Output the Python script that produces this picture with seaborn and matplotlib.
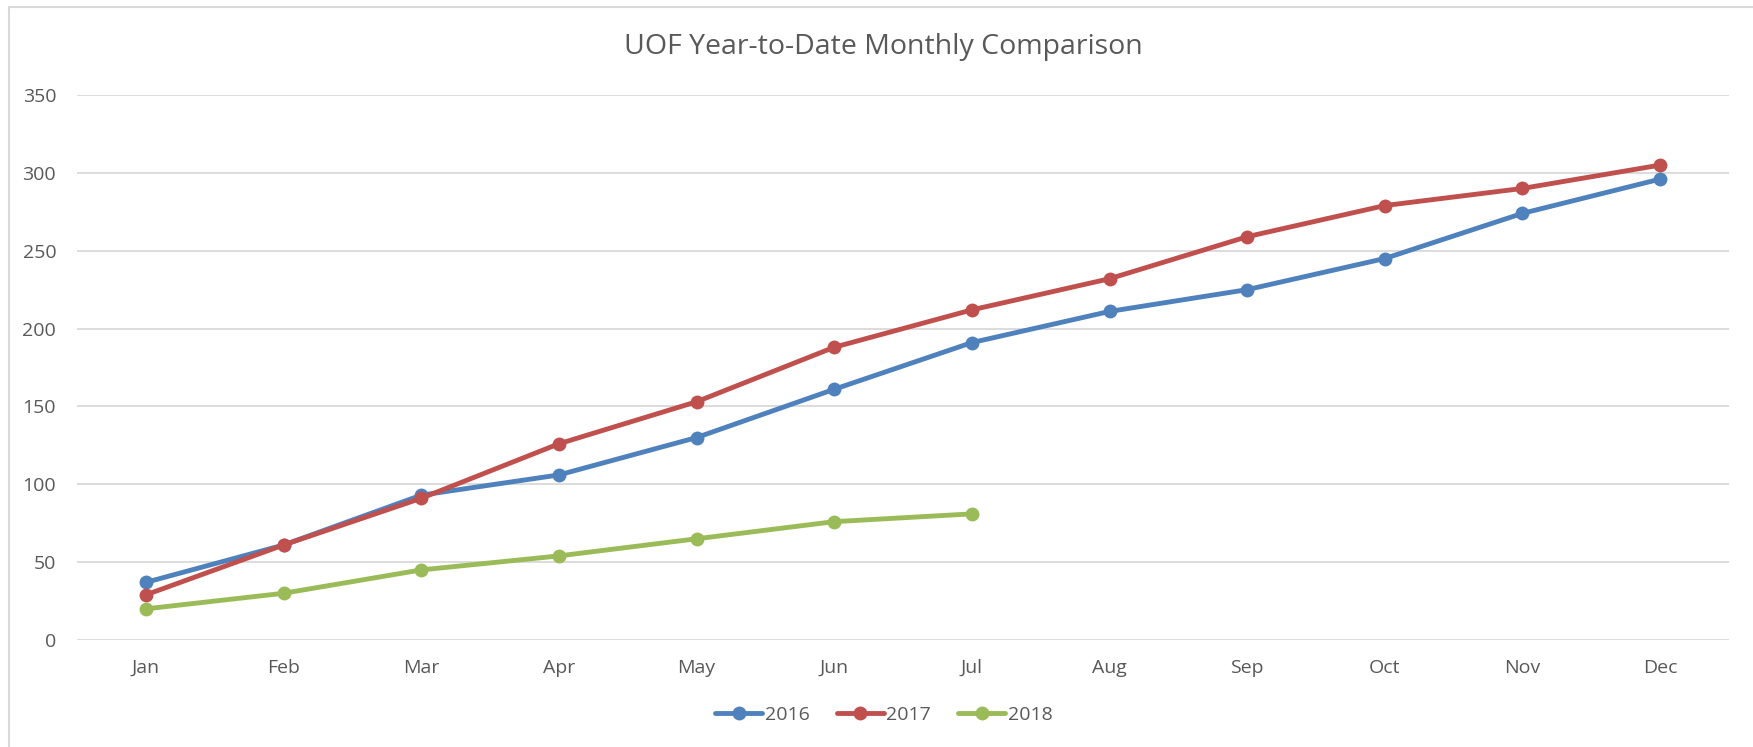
import matplotlib
matplotlib.use("Agg")
import matplotlib.pyplot as plt
from matplotlib.lines import Line2D
import seaborn as sns
import pandas as pd
import numpy as np

months = ["Jan", "Feb", "Mar", "Apr", "May", "Jun", "Jul", "Aug", "Sep", "Oct", "Nov", "Dec"]
y2016 = [37, 61, 93, 106, 130, 161, 191, 211, 225, 245, 274, 296]
y2017 = [29, 61, 91, 126, 153, 188, 212, 232, 259, 279, 290, 305]
y2018 = [20, 30, 45, 54, 65, 76, 81]
years = ["2016", "2017", "2018"]
colors = ["#4F81BD", "#C0504D", "#9BBB59"]
yticks = [0, 50, 100, 150, 200, 250, 300, 350]

rows = []
for yr, vals in zip(years, [y2016, y2017, y2018]):
    for i, v in enumerate(vals):
        rows.append({"idx": i, "month": months[i], "value": v, "year": yr})
df = pd.DataFrame(rows)

sns.set_theme(style="white")
plt.rcParams["font.family"] = ["Open Sans", "DejaVu Sans"]
text_color = "#595959"
grid_color = "#D9D9D9"

W, H = 1753, 747
fig = plt.figure(figsize=(W / 100, H / 100), dpi=100)
ax = fig.add_axes([77 / W, 1 - 640 / H, (1729 - 77) / W, (640 - 95) / H])

LW = 3.5
MS = 10
sns.lineplot(data=df, x="idx", y="value", hue="year", palette=colors,
             marker="o", markersize=MS, markeredgewidth=0, linewidth=LW,
             ax=ax, legend=False, sort=False)

ax.set_xlim(-0.5, 11.5)
ax.set_ylim(0, 350)
ax.set_xticks(range(len(months)))
ax.set_xticklabels(months)
ax.set_yticks(yticks)
ax.set_yticklabels([str(t) for t in yticks])
ax.set_xlabel("")
ax.set_ylabel("")
for s in ax.spines.values():
    s.set_visible(False)
ax.grid(axis="y", color=grid_color, linewidth=1.3)
ax.grid(axis="x", visible=False)
ax.set_axisbelow(True)
ax.tick_params(axis="y", length=0, pad=15, labelsize=14, labelcolor=text_color)
ax.tick_params(axis="x", length=0, pad=13.5, labelsize=14, labelcolor=text_color)

fig.text(883 / W, 1 - 47 / H, "UOF Year-to-Date Monthly Comparison",
         ha="center", va="center", fontsize=20.5, color=text_color)

handles = [Line2D([0], [0], color=c, lw=LW, marker="o", markersize=MS,
                  markeredgewidth=0) for c in colors]
fig.legend(handles, years, loc="center", bbox_to_anchor=(884 / W, 1 - 715 / H),
           ncol=3, frameon=False, fontsize=14, handlelength=2.4,
           handletextpad=0.15, columnspacing=1.4, labelcolor=text_color)

# chart border (left and top edges visible)
fig.add_artist(Line2D([8.5 / W, 8.5 / W], [0, 1 - 7 / H], transform=fig.transFigure,
                      color=grid_color, lw=1.5))
fig.add_artist(Line2D([8.5 / W, 1], [1 - 7 / H, 1 - 7 / H], transform=fig.transFigure,
                      color=grid_color, lw=1.5))

fig.savefig("out.png", dpi=100, facecolor="white")
